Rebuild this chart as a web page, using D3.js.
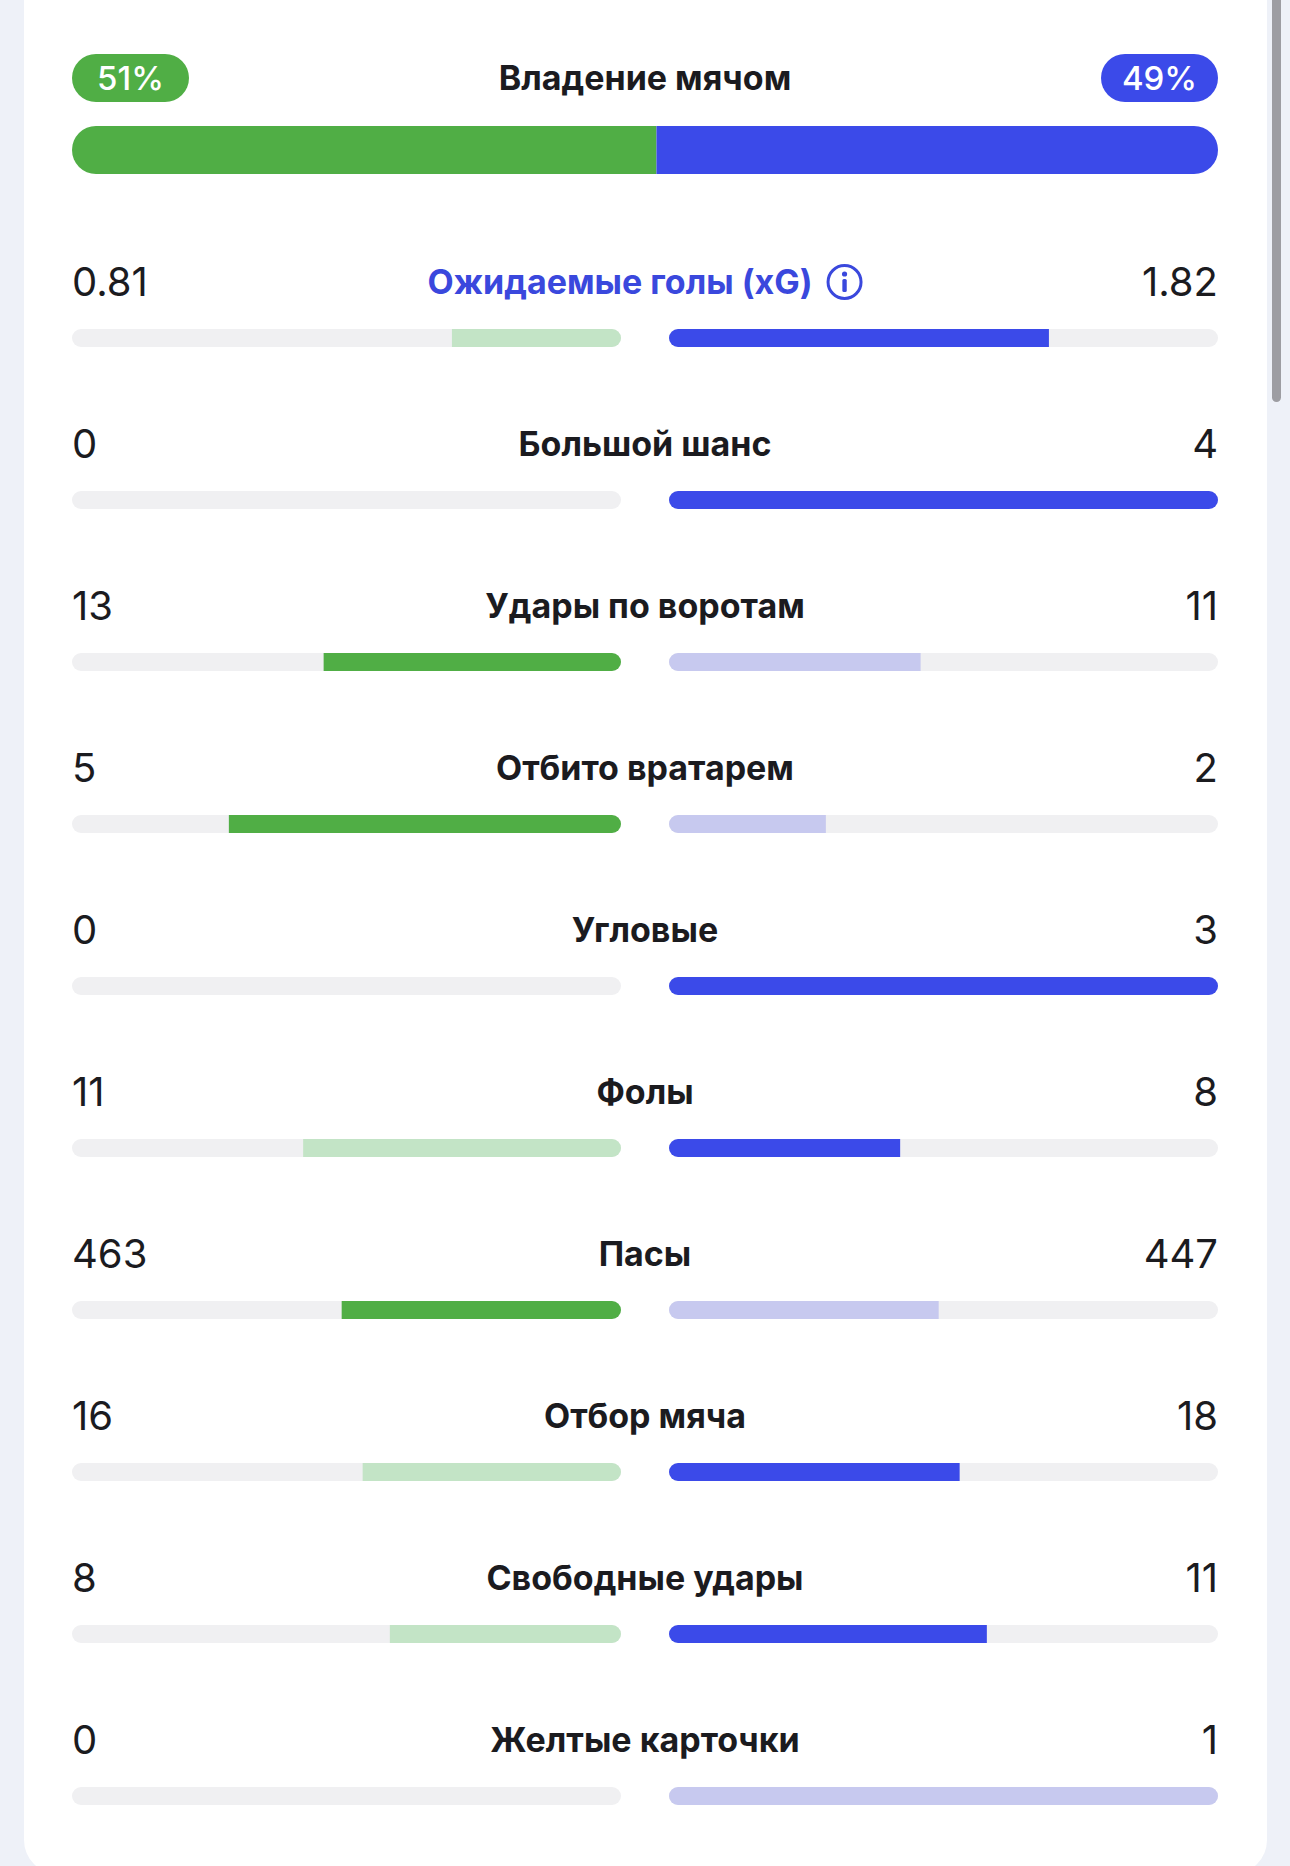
<!DOCTYPE html>
<html lang="ru">
<head>
<meta charset="UTF-8">
<title>Статистика матча</title>
<style>
    body { margin: 0; background: #eef1f8; }
    svg { display: block; }
</style>
</head>
<body>
<script src="https://cdn.jsdelivr.net/npm/d3@7/dist/d3.min.js"></script>
<script>
    // possession
    var possessionTitle = "Владение мячом";
    var possession = [51, 49];

    // stats rows
    var categories = ["Ожидаемые голы (xG)", "Большой шанс", "Удары по воротам", "Отбито вратарем",
        "Угловые", "Фолы", "Пасы", "Отбор мяча", "Свободные удары", "Желтые карточки"];
    var homeValues = [0.81, 0, 13, 5, 0, 11, 463, 16, 8, 0];
    var awayValues = [1.82, 4, 11, 2, 3, 8, 447, 18, 11, 1];
    var homeLabels = ["0.81", "0", "13", "5", "0", "11", "463", "16", "8", "0"];
    var awayLabels = ["1.82", "4", "11", "2", "3", "8", "447", "18", "11", "1"];
    // fewer is better for these
    var lowerIsBetter = [false, false, false, false, false, true, false, false, false, true];

    var W = 1290, H = 1866;
    var green = "#50ae45", blue = "#3b4ae9";
    var lightGreen = "#c3e4c6", lightBlue = "#c7c9ef", track = "#f0f0f2";
    var font = "Inter, 'Noto Sans', sans-serif";

    var left = 72, right = 1218, gap = 48;
    var trackW = (right - left - gap) / 2;

    var svg = d3.select("body").append("svg")
        .attr("width", W)
        .attr("height", H);

    // card
    svg.append("rect")
        .attr("x", 24).attr("y", -40)
        .attr("width", 1243).attr("height", H + 48)
        .attr("rx", 34)
        .attr("fill", "#fff");

    // scrollbar
    svg.append("rect")
        .attr("x", 1272).attr("y", -10)
        .attr("width", 9).attr("height", 412)
        .attr("rx", 4.5)
        .attr("fill", "#9d9da2");

    // ---- possession ----
    var possX = d3.scaleLinear().domain([0, 100]).range([left, right]);

    var pills = [
        { x: left, fill: green, text: possession[0] + "%" },
        { x: right - 117, fill: blue, text: possession[1] + "%" }
    ];
    var pill = svg.selectAll("g.pill").data(pills).enter().append("g").attr("class", "pill");
    pill.append("rect")
        .attr("x", function(d) { return d.x; })
        .attr("y", 54)
        .attr("width", 117).attr("height", 48)
        .attr("rx", 24)
        .attr("fill", function(d) { return d.fill; });
    pill.append("text")
        .attr("x", function(d) { return d.x + 58.5; })
        .attr("y", 78)
        .attr("dy", "0.36em")
        .attr("text-anchor", "middle")
        .attr("font-family", font)
        .attr("font-size", "33px")
        .attr("font-weight", 500)
        .attr("fill", "#fff")
        .text(function(d) { return d.text; });

    svg.append("text")
        .attr("x", (left + right) / 2)
        .attr("y", 78)
        .attr("dy", "0.36em")
        .attr("text-anchor", "middle")
        .attr("font-family", font)
        .attr("font-size", "34px")
        .attr("font-weight", 700)
        .attr("fill", "#1b1b1f")
        .text(possessionTitle);

    svg.append("clipPath").attr("id", "possClip")
        .append("rect")
        .attr("x", left).attr("y", 126)
        .attr("width", right - left).attr("height", 48)
        .attr("rx", 24);

    var possG = svg.append("g").attr("clip-path", "url(#possClip)");
    possG.append("rect")
        .attr("x", possX(0)).attr("y", 126)
        .attr("width", possX(possession[0]) - possX(0)).attr("height", 48)
        .attr("fill", green);
    possG.append("rect")
        .attr("x", possX(possession[0])).attr("y", 126)
        .attr("width", possX(100) - possX(possession[0])).attr("height", 48)
        .attr("fill", blue);

    // ---- stat rows ----
    var y = d3.scaleLinear().domain([0, categories.length - 1]).range([282, 282 + 162 * 9]);
    var share = d3.scaleLinear().domain([0, 1]).range([0, trackW]);
    var barH = 18, barOff = 56;

    categories.forEach(function(cat, i) {
        var h = homeValues[i], a = awayValues[i];
        var total = h + a;
        var hs = total ? h / total : 0, as = total ? a / total : 0;
        var homeWins = lowerIsBetter[i] ? h < a : h > a;
        var awayWins = lowerIsBetter[i] ? a < h : a > h;
        var cy = y(i);
        var by = cy + barOff - barH / 2;
        var g = svg.append("g");
        var titleColor = i === 0 ? "#3a48dd" : "#1b1b1f";

        g.append("text")
            .attr("x", left).attr("y", cy).attr("dy", "0.36em")
            .attr("font-family", font).attr("font-size", "40px")
            .attr("fill", "#1b1b1f")
            .text(homeLabels[i]);
        g.append("text")
            .attr("x", right).attr("y", cy).attr("dy", "0.36em")
            .attr("text-anchor", "end")
            .attr("font-family", font).attr("font-size", "40px")
            .attr("fill", "#1b1b1f")
            .text(awayLabels[i]);

        var title = g.append("text")
            .attr("x", (left + right) / 2).attr("y", cy).attr("dy", "0.36em")
            .attr("text-anchor", "middle")
            .attr("font-family", font).attr("font-size", "34px")
            .attr("font-weight", 700)
            .attr("fill", titleColor)
            .text(cat);

        if (i === 0) {
            // info icon after xG title
            var tw = title.node().getComputedTextLength();
            var total_w = tw + 14 + 36;
            var x0 = (left + right) / 2 - total_w / 2;
            title.attr("text-anchor", "start").attr("x", x0);
            var ix = x0 + tw + 14 + 18;
            g.append("circle")
                .attr("cx", ix).attr("cy", cy)
                .attr("r", 16.5)
                .attr("fill", "none")
                .attr("stroke", titleColor)
                .attr("stroke-width", 3);
            g.append("circle")
                .attr("cx", ix).attr("cy", cy - 8)
                .attr("r", 2.6)
                .attr("fill", titleColor);
            g.append("rect")
                .attr("x", ix - 2.2).attr("y", cy - 3)
                .attr("width", 4.4).attr("height", 13)
                .attr("rx", 1.5)
                .attr("fill", titleColor);
        }

        // tracks
        var lx = left, rx = left + trackW + gap;
        g.append("clipPath").attr("id", "clipL" + i)
            .append("rect")
            .attr("x", lx).attr("y", by).attr("width", trackW).attr("height", barH).attr("rx", barH / 2);
        g.append("clipPath").attr("id", "clipR" + i)
            .append("rect")
            .attr("x", rx).attr("y", by).attr("width", trackW).attr("height", barH).attr("rx", barH / 2);

        var gl = g.append("g").attr("clip-path", "url(#clipL" + i + ")");
        gl.append("rect")
            .attr("x", lx).attr("y", by).attr("width", trackW).attr("height", barH)
            .attr("fill", track);
        gl.append("rect")
            .attr("x", lx + trackW - share(hs)).attr("y", by)
            .attr("width", share(hs)).attr("height", barH)
            .attr("fill", homeWins ? green : lightGreen);

        var gr = g.append("g").attr("clip-path", "url(#clipR" + i + ")");
        gr.append("rect")
            .attr("x", rx).attr("y", by).attr("width", trackW).attr("height", barH)
            .attr("fill", track);
        gr.append("rect")
            .attr("x", rx).attr("y", by)
            .attr("width", share(as)).attr("height", barH)
            .attr("fill", awayWins ? blue : lightBlue);
    });
</script>
</body>
</html>
